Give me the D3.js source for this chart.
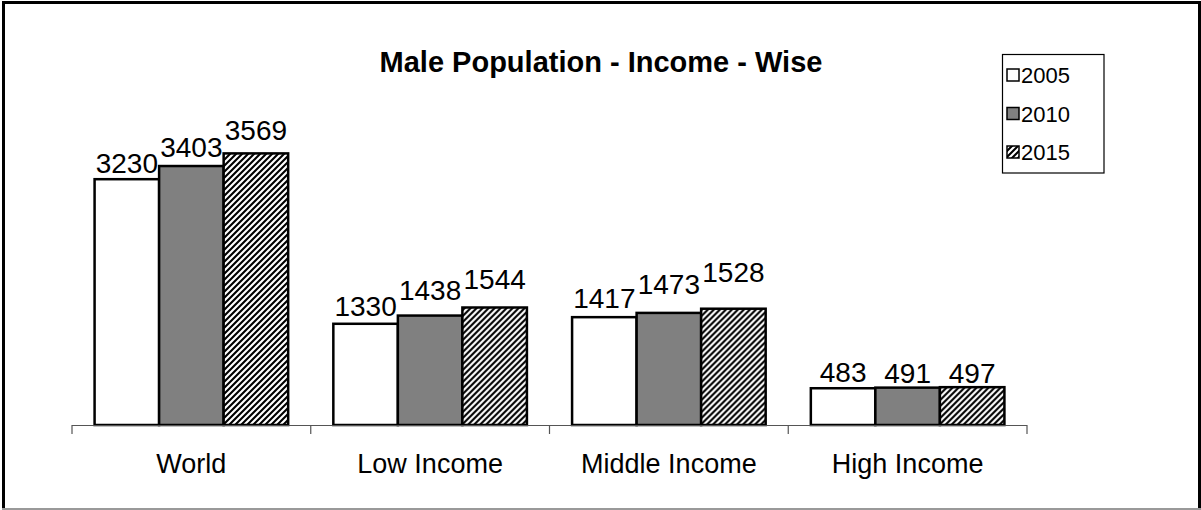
<!DOCTYPE html>
<html>
<head>
<meta charset="utf-8">
<script src="https://cdn.jsdelivr.net/npm/d3@7/dist/d3.min.js"></script>
<style>
  html, body { margin: 0; padding: 0; background: #fff; }
  svg { display: block; }
  text { font-family: "Liberation Sans", Arial, sans-serif; fill: #000; }
</style>
</head>
<body>
<svg id="chart" width="1201" height="510"></svg>
<script>
const categories = ["World", "Low Income", "Middle Income", "High Income"];
const seriesNames = ["2005", "2010", "2015"];
const values2005 = [3230, 1330, 1417, 483];
const values2010 = [3403, 1438, 1473, 491];
const values2015 = [3569, 1544, 1528, 497];
const titleText = "Male Population - Income - Wise";

const seriesValues = [values2005, values2010, values2015];

// layout: gap (px) between each value label baseline and its bar top, per series / category
// (labels in the original were nudged individually)
const labelGap = [
  [6, 8, 9, 6],
  [9, 16, 19, 5],
  [13, 19, 27, 4]
];

const W = 1201, H = 510;
const svg = d3.select("#chart");

svg.append("rect").attr("width", W).attr("height", H).attr("fill", "#fff");

// hatch pattern
const defs = svg.append("defs");
const pat = defs.append("pattern")
  .attr("id", "hatch").attr("patternUnits", "userSpaceOnUse")
  .attr("width", 6).attr("height", 6);
pat.append("rect").attr("width", 6).attr("height", 6).attr("fill", "#fff");
pat.append("path")
  .attr("d", "M-1.5,1.5 L1.5,-1.5 M0,6 L6,0 M4.5,7.5 L7.5,4.5")
  .attr("stroke", "#000").attr("stroke-width", 2.1);

const fills = ["#ffffff", "#808080", "url(#hatch)"];

// outer border
svg.append("line").attr("x1", 3.5).attr("y1", 1).attr("x2", 3.5).attr("y2", 508).attr("stroke", "#000").attr("stroke-width", 3);
svg.append("line").attr("x1", 2).attr("y1", 2.5).attr("x2", 1200).attr("y2", 2.5).attr("stroke", "#000").attr("stroke-width", 3);
svg.append("line").attr("x1", 1199.5).attr("y1", 1).attr("x2", 1199.5).attr("y2", 508).attr("stroke", "#000").attr("stroke-width", 3);
svg.append("line").attr("x1", 2).attr("y1", 509).attr("x2", 1201).attr("y2", 509).attr("stroke", "#999").attr("stroke-width", 2);

// scales
const x0 = d3.scaleBand().domain(categories).range([72, 1027]).paddingInner(0).paddingOuter(0);
const x1 = d3.scaleBand().domain(seriesNames).range([0, x0.bandwidth()]).paddingInner(0).paddingOuter(0.35);
const y = d3.scaleLinear().domain([0, 4000]).range([425, 120.6]);

// title
svg.append("text").attr("x", 601).attr("y", 72).attr("text-anchor", "middle")
  .attr("font-size", 29).attr("font-weight", "bold").text(titleText);

// bars
const groups = svg.selectAll("g.cat").data(categories).join("g")
  .attr("class", "cat").attr("transform", d => `translate(${x0(d)},0)`);

seriesNames.forEach((s, si) => {
  groups.append("rect")
    .attr("x", () => x1(s))
    .attr("y", (d, ci) => y(seriesValues[si][ci]))
    .attr("width", x1.bandwidth())
    .attr("height", (d, ci) => y(0) - y(seriesValues[si][ci]))
    .attr("fill", fills[si])
    .attr("stroke", "#000").attr("stroke-width", 2.5);
});
seriesNames.forEach((s, si) => {
  groups.append("text")
    .attr("x", () => x1(s) + x1.bandwidth() / 2)
    .attr("y", (d, ci) => y(seriesValues[si][ci]) - labelGap[si][ci])
    .attr("text-anchor", "middle").attr("font-size", 28)
    .text((d, ci) => seriesValues[si][ci]);
});

// axis
const gAxis = svg.append("g").attr("transform", `translate(0,${y(0)})`);
gAxis.append("line").attr("x1", 72).attr("x2", 1027).attr("y1", 0.5).attr("y2", 0.5)
  .attr("stroke", "#555").attr("stroke-width", 1.2);
const boundaries = categories.map(c => x0(c)).concat([x0(categories[categories.length - 1]) + x0.bandwidth()]);
gAxis.selectAll("line.tick").data(boundaries).join("line").attr("class", "tick")
  .attr("x1", d => d).attr("x2", d => d).attr("y1", 0).attr("y2", 9)
  .attr("stroke", "#555").attr("stroke-width", 1.2);
gAxis.selectAll("text.cat").data(categories).join("text").attr("class", "cat")
  .attr("x", d => x0(d) + x0.bandwidth() / 2).attr("y", 48)
  .attr("text-anchor", "middle").attr("font-size", 27).text(d => d);

// legend
const lg = svg.append("g");
lg.append("rect").attr("x", 1002.5).attr("y", 54.5).attr("width", 101.5).attr("height", 118.5)
  .attr("fill", "#fff").attr("stroke", "#000").attr("stroke-width", 1.2);
const rowY = [75, 113.5, 152];
seriesNames.forEach((s, i) => {
  lg.append("rect").attr("x", 1007).attr("y", rowY[i] - 6).attr("width", 12).attr("height", 12)
    .attr("fill", fills[i]).attr("stroke", "#000").attr("stroke-width", 1.5);
  lg.append("text").attr("x", 1021).attr("y", rowY[i] + 8).attr("font-size", 22).text(s);
});
</script>
</body>
</html>
